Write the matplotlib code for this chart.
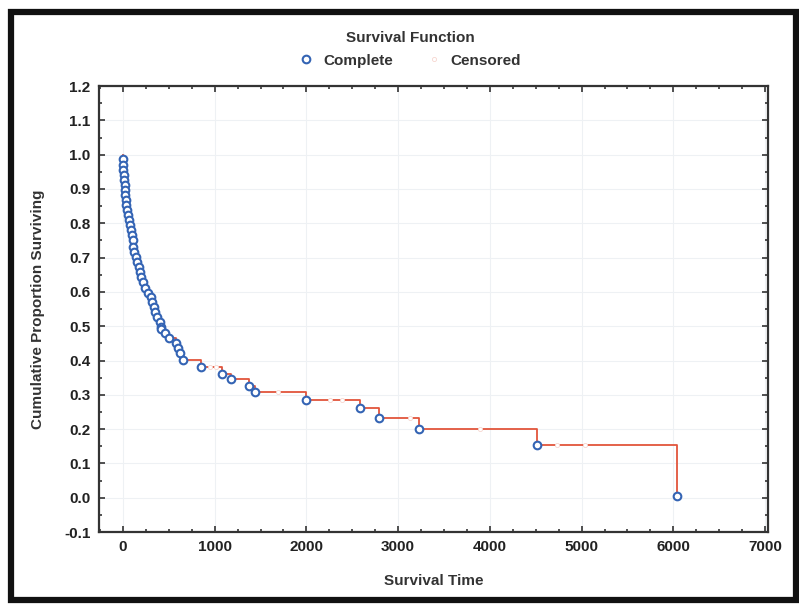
import matplotlib
matplotlib.use('Agg')
import matplotlib.pyplot as plt
from matplotlib.patches import Rectangle
from matplotlib.ticker import MultipleLocator

plt.rcParams['font.family'] = ['Liberation Sans Narrow', 'Liberation Sans', 'DejaVu Sans']

# complete (death) times and survival values
death_times = [2, 4, 6, 10, 14, 18, 22, 26, 30, 35, 45, 55, 70, 80, 90, 100, 105,
               115, 125, 140, 155, 170, 185, 195, 215, 245, 270, 305, 320, 335,
               355, 375, 400, 415, 420, 460, 500, 580, 605, 625, 650,
               850, 1078, 1176, 1376, 1441, 1997, 2585, 2792, 3225, 4510, 6035]
survival = [0.987, 0.970, 0.955, 0.941, 0.926, 0.912, 0.897, 0.882, 0.867, 0.853,
            0.838, 0.824, 0.810, 0.795, 0.780, 0.766, 0.751, 0.732, 0.717, 0.703,
            0.688, 0.673, 0.659, 0.644, 0.630, 0.610, 0.596, 0.586, 0.571, 0.557,
            0.542, 0.528, 0.513, 0.499, 0.491, 0.481, 0.465, 0.450, 0.436, 0.421,
            0.401, 0.382, 0.361, 0.345, 0.326, 0.309, 0.285, 0.261, 0.233, 0.200,
            0.154, 0.005]

# censored times and the level of the curve there
censored_times = [950, 1020, 1695, 2258, 2385, 3130, 3892, 4728, 5036]
censored_surv = [0.382, 0.382, 0.309, 0.285, 0.285, 0.233, 0.200, 0.154, 0.154]

fig = plt.figure(figsize=(7.99, 6.06), dpi=100)
ax = fig.add_axes([0.124, 0.122, 0.837, 0.736])

step_x = [0] + death_times
step_y = [1.0] + survival
ax.step(step_x, step_y, where='post', color='#e2553c', linewidth=1.3, zorder=2)

ax.plot(death_times, survival, linestyle='none', marker='o', markersize=5.5,
        markerfacecolor='white', markeredgecolor='#3464b4', markeredgewidth=1.5,
        label='Complete', zorder=4)
ax.plot(censored_times, censored_surv, linestyle='none', marker='o', markersize=3,
        markerfacecolor='white', markeredgecolor='#f6d6cf', markeredgewidth=0.6,
        label='Censored', zorder=3)

ax.set_xlim(-260, 7030)
ax.set_ylim(-0.1, 1.2)
ax.xaxis.set_major_locator(MultipleLocator(1000))
ax.xaxis.set_minor_locator(MultipleLocator(250))
ax.yaxis.set_major_locator(MultipleLocator(0.1))
ax.yaxis.set_minor_locator(MultipleLocator(0.05))
ax.yaxis.set_major_formatter(plt.FuncFormatter(lambda v, p: f'{v:.1f}'))
ax.tick_params(which='both', direction='in', top=True, right=True, width=1.2,
               color='#333333')
ax.tick_params(which='major', length=4, labelsize=11, pad=6)
ax.tick_params(which='minor', length=2.5)
for lab in ax.get_xticklabels() + ax.get_yticklabels():
    lab.set_fontweight('bold')
    lab.set_color('#222222')
for sp in ax.spines.values():
    sp.set_linewidth(1.6)
    sp.set_color('#333333')
ax.grid(True, color='#eef1f4', linewidth=0.8)
ax.set_axisbelow(True)

ax.set_xlabel('Survival Time', fontsize=11, fontweight='bold', color='#333333',
              labelpad=14)
ax.set_ylabel('Cumulative Proportion Surviving', fontsize=11, fontweight='bold',
              color='#333333', labelpad=14)

fig.text(0.513, 0.937, 'Survival Function', ha='center', va='center',
         fontsize=11, fontweight='bold', color='#333333')
leg = ax.legend(loc='center', bbox_to_anchor=(0.513, 0.900),
                bbox_transform=fig.transFigure, ncol=2, frameon=False,
                fontsize=11, handlelength=1.0, handletextpad=0.6,
                columnspacing=2.2)
for t in leg.get_texts():
    t.set_fontweight('bold')
    t.set_color('#333333')

# thick black frame around the whole picture
fig.patches.append(Rectangle((10.5 / 799, 6 / 606), 785 / 799, 588 / 606,
                             transform=fig.transFigure, fill=False,
                             edgecolor='#111111', linewidth=4.5))

fig.savefig('out.png', dpi=100)
